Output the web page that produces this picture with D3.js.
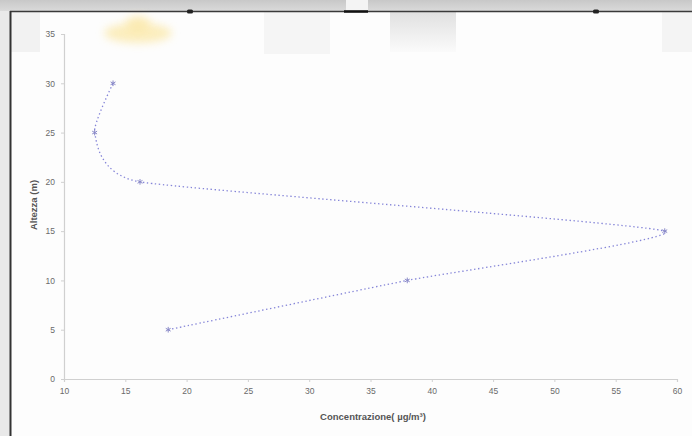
<!DOCTYPE html>
<html>
<head>
<meta charset="utf-8">
<script src="https://cdn.jsdelivr.net/npm/d3@7/dist/d3.min.js"></script>
<style>
  html, body { margin: 0; padding: 0; background: #fdfdfd; }
  svg { display: block; }
  text { font-family: "Liberation Sans", Arial, sans-serif; }
</style>
</head>
<body>
<svg id="chart" width="692" height="436"></svg>
<script>
// ---- data ----
const altitudes = [5, 10, 15, 20, 25, 30];                 // Altezza (m)
const concentrations = [18.5, 38, 59, 16.2, 12.5, 14];     // µg/m³
const xTicks = [10, 15, 20, 25, 30, 35, 40, 45, 50, 55, 60];
const yTicks = [0, 5, 10, 15, 20, 25, 30, 35];
const xTitle = "Concentrazione( µg/m³)";
const yTitle = "Altezza (m)";

const svg = d3.select("#chart");
const W = 692, H = 436;

// ---- screenshot frame ----
const defs = svg.append("defs");
const g1 = defs.append("linearGradient").attr("id", "topg").attr("x1", 0).attr("y1", 0).attr("x2", 0).attr("y2", 1);
g1.append("stop").attr("offset", "0%").attr("stop-color", "#c8c8c8");
g1.append("stop").attr("offset", "100%").attr("stop-color", "#dadada");
const g2 = defs.append("linearGradient").attr("id", "boxg").attr("x1", 0).attr("y1", 0).attr("x2", 0).attr("y2", 1);
g2.append("stop").attr("offset", "0%").attr("stop-color", "#d9d9d9");
g2.append("stop").attr("offset", "100%").attr("stop-color", "#fafafa");
defs.append("filter").attr("id", "blur").attr("x", "-50%").attr("y", "-50%").attr("width", "200%").attr("height", "200%")
  .append("feGaussianBlur").attr("stdDeviation", 4);

svg.append("rect").attr("x", 0).attr("y", 0).attr("width", W).attr("height", H).attr("fill", "#fdfdfd");
svg.append("rect").attr("x", 0).attr("y", 0).attr("width", 10).attr("height", H).attr("fill", "#e9e9e9");
svg.append("rect").attr("x", 0).attr("y", 0).attr("width", W).attr("height", 11).attr("fill", "url(#topg)");
svg.append("rect").attr("x", 346).attr("y", 0).attr("width", 22).attr("height", 11).attr("fill", "#f4f4f4");
// faint blocks near the top
svg.append("rect").attr("x", 390).attr("y", 12).attr("width", 66).attr("height", 40).attr("fill", "url(#boxg)").attr("opacity", 0.8);
svg.append("rect").attr("x", 264).attr("y", 12).attr("width", 66).attr("height", 42).attr("fill", "#f5f5f5");
svg.append("rect").attr("x", 662).attr("y", 12).attr("width", 30).attr("height", 40).attr("fill", "#f4f4f4");
svg.append("rect").attr("x", 11).attr("y", 12).attr("width", 29).attr("height", 40).attr("fill", "#f2f2f2");
// yellow blob
svg.append("ellipse").attr("cx", 138).attr("cy", 33).attr("rx", 34).attr("ry", 10)
  .attr("fill", "#fbe8a8").attr("opacity", 0.75).attr("filter", "url(#blur)");
svg.append("ellipse").attr("cx", 138).attr("cy", 24).attr("rx", 12).attr("ry", 8)
  .attr("fill", "#fbe8a8").attr("opacity", 0.75).attr("filter", "url(#blur)");
// frame lines
svg.append("line").attr("x1", 10).attr("x2", W).attr("y1", 11.5).attr("y2", 11.5).attr("stroke", "#3a3a3a").attr("stroke-width", 1.5);
svg.append("line").attr("x1", 10.5).attr("x2", 10.5).attr("y1", 11).attr("y2", H).attr("stroke", "#333").attr("stroke-width", 2);
svg.append("line").attr("x1", 344).attr("x2", 368).attr("y1", 11.5).attr("y2", 11.5).attr("stroke", "#111").attr("stroke-width", 2.5);
[190, 596].forEach(cx =>
  svg.append("rect").attr("x", cx - 3).attr("y", 9.5).attr("width", 6).attr("height", 4).attr("rx", 1.5).attr("fill", "#222"));

// ---- scales ----
const x = d3.scaleLinear().domain([10, 60]).range([64, 677]);
const y = d3.scaleLinear().domain([0, 35]).range([379, 34]);

// ---- axes ----
const xAxis = svg.append("g").attr("transform", `translate(0,${y(0)})`)
  .call(d3.axisBottom(x).tickValues(xTicks).tickSize(3).tickPadding(6));
const yAxis = svg.append("g").attr("transform", `translate(${x(10)},0)`)
  .call(d3.axisLeft(y).tickValues(yTicks).tickSize(3).tickPadding(6));
[xAxis, yAxis].forEach(a => {
  a.select(".domain").attr("stroke", "#d0d0d0").attr("stroke-width", 1.2);
  a.selectAll(".tick line").attr("stroke", "#d0d0d0");
  a.selectAll(".tick text").attr("fill", "#6a6a6a").attr("font-size", 8.5);
});

// ---- titles ----
svg.append("text").attr("x", 373).attr("y", 420).attr("text-anchor", "middle")
  .attr("font-size", 9.5).attr("font-weight", "bold").attr("fill", "#555").text(xTitle);
svg.append("text").attr("transform", "translate(37,205) rotate(-90)").attr("text-anchor", "middle")
  .attr("font-size", 9.5).attr("font-weight", "bold").attr("fill", "#555").text(yTitle);

// ---- series ----
const pts = altitudes.map((a, i) => [concentrations[i], a]);
const line = d3.line().x(d => x(d[0])).y(d => y(d[1])).curve(d3.curveCardinal.tension(0.55));
svg.append("path").attr("d", line(pts)).attr("fill", "none")
  .attr("stroke", "#8585d8").attr("stroke-width", 1.3).attr("stroke-dasharray", "1.4,2.6");

const sym = d3.symbol().type(d3.symbolAsterisk || d3.symbolCross).size(22);
svg.selectAll(".mk").data(pts).join("path").attr("class", "mk")
  .attr("transform", d => `translate(${x(d[0])},${y(d[1])})`)
  .attr("d", sym).attr("fill", "none").attr("stroke", "#8a8ac8").attr("stroke-width", 1);
</script>
</body>
</html>
